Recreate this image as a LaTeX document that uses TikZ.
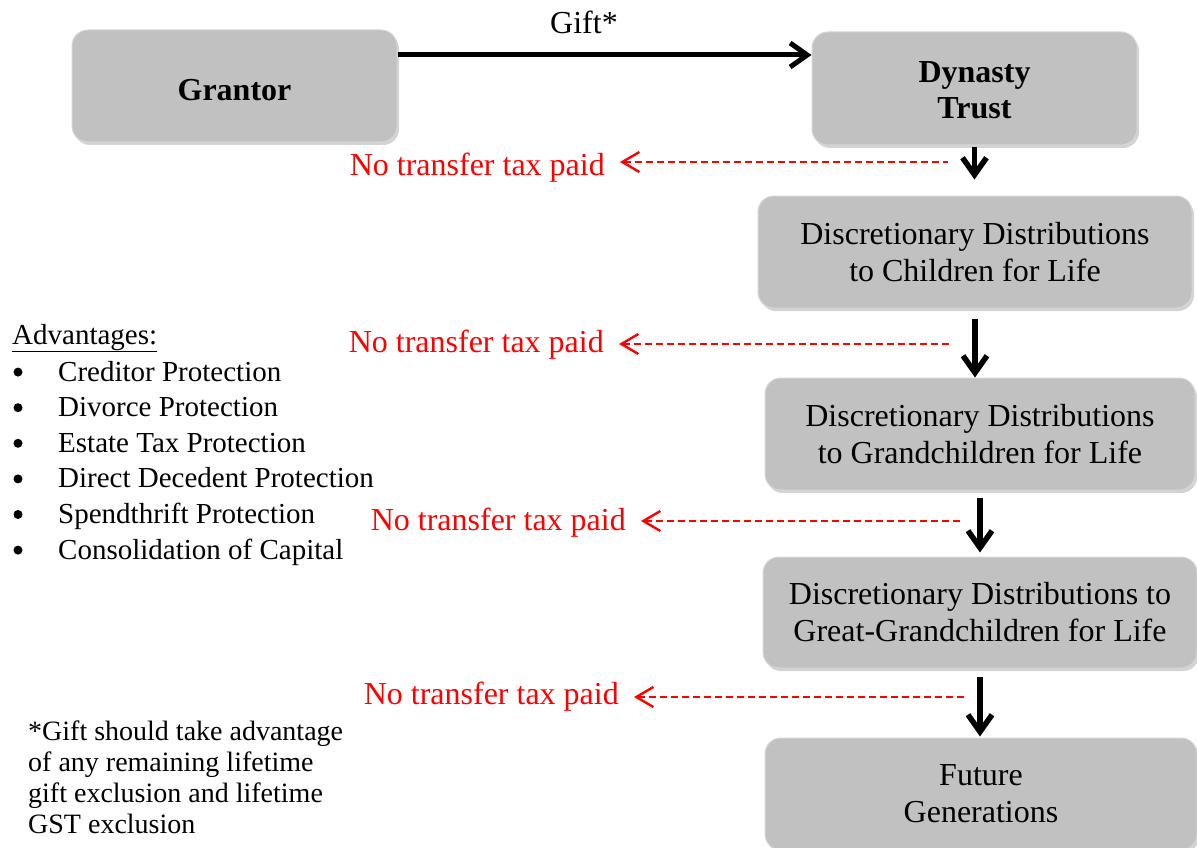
\documentclass[tikz,border=0pt]{standalone}
\usepackage{fontspec}
\setmainfont{Liberation Serif}
\usetikzlibrary{arrows.meta,shadows}

\definecolor{boxgray}{RGB}{193,193,193}
\definecolor{boxedge}{RGB}{214,214,214}

\tikzset{
  stage/.style={rectangle, rounded corners=16pt, fill=boxgray, draw=boxedge, line width=1pt,
    drop shadow={shadow xshift=2pt, shadow yshift=-3pt, opacity=0.35, fill=gray},
    align=center, inner sep=0pt, font=\fontsize{32}{37}\selectfont},
  flow/.style={line width=5.5pt, -{Straight Barb[length=17pt,width=24pt]}},
  notax/.style={text=red, anchor=east, inner xsep=15pt, inner ysep=0pt, font=\fontsize{32}{37}\selectfont},
  taxflow/.style={red, line width=2.4pt, dash pattern=on 7pt off 4pt, {Straight Barb[length=17pt,width=20pt]}-},
  advtext/.style={inner sep=0pt, font=\fontsize{29}{35}\selectfont},
  dot/.style={circle, fill=black, inner sep=0pt, minimum size=9pt},
}
\newcommand{\lowered}[2]{\raisebox{-#1}[\height][\depth]{#2}}

\begin{document}
\begin{tikzpicture}[x=1pt, y=-1pt]
  \useasboundingbox (0,0) rectangle (1197,848);

  % boxes
  \node[stage, minimum width=325pt, minimum height=112pt, font=\fontsize{32}{37}\selectfont\bfseries] (gran) at (234.5,86) {\lowered{4pt}{Grantor}};
  \node[stage, minimum width=325pt, minimum height=113pt, font=\fontsize{32}{36}\selectfont\bfseries] (trust) at (974.5,88.5) {\lowered{2pt}{Dynasty}\\\lowered{2pt}{Trust}};
  \node[stage, minimum width=434pt, minimum height=112pt] (kids) at (975,252) {Discretionary Distributions\\to Children for Life};
  \node[stage, minimum width=430pt, minimum height=112pt] (grand) at (980,434) {Discretionary Distributions\\to Grandchildren for Life};
  \node[stage, minimum width=434pt, minimum height=111pt] (great) at (980,612.5) {Discretionary Distributions to\\Great-Grandchildren for Life};
  \node[stage, minimum width=432pt, minimum height=112pt] (future) at (981,794) {Future\\Generations};

  % gift
  \node[font=\fontsize{32}{37}\selectfont, inner sep=0pt] (gift) at (584,22) {Gift*};
  \draw[flow, line width=5pt] ([yshift=31pt]gran.east) -- ([yshift=31pt]gran.east -| trust.west);

  % down the generations
  \draw[flow, shorten <=2pt, shorten >=16pt] (trust.south) -- (trust.south |- kids.north);
  \draw[flow, shorten <=10pt] (kids.south) -- (kids.south |- grand.north);
  \draw[flow, shorten <=7pt, shorten >=4pt] (grand.south) -- (grand.south |- great.north);
  \draw[flow, shorten <=8pt, shorten >=1pt] (great.south) -- (great.south |- future.north);

  % no transfer tax
  \node[notax] (nt1) at (620,168) {No transfer tax paid};
  \node[notax] (nt2) at (619,345) {No transfer tax paid};
  \node[notax] (nt3) at (641,523) {No transfer tax paid};
  \node[notax] (nt4) at (634,697) {No transfer tax paid};
  \coordinate (r1) at (948,162);
  \coordinate (r2) at (950,344);
  \coordinate (r3) at (963,521);
  \coordinate (r4) at (966,697);
  \draw[taxflow] (r1 -| nt1.east) -- (r1);
  \draw[taxflow] (r2 -| nt2.east) -- (r2);
  \draw[taxflow] (r3 -| nt3.east) -- (r3);
  \draw[taxflow] (r4 -| nt4.east) -- (r4);

  % advantages
  \node[advtext, anchor=base west] (adv0) at (12,344) {\underline{Advantages:}};
  \foreach \t [count=\i] in {Creditor Protection, Divorce Protection, Estate Tax Protection,
      Direct Decedent Protection, Spendthrift Protection, Consolidation of Capital} {
    \node[advtext, anchor=base west] (adv\i) at (58,{345.5+35.6*\i}) {\t};
    \node[dot] (bul\i) at (18,{336.5+35.6*\i}) {};
  }

  % footnote
  \node[inner sep=0pt, anchor=north west, align=left, font=\fontsize{28}{30.7}\selectfont] (note) at (28,721)
    {*Gift should take advantage\\of any remaining lifetime\\gift exclusion and lifetime\\GST exclusion};
\end{tikzpicture}
\end{document}
